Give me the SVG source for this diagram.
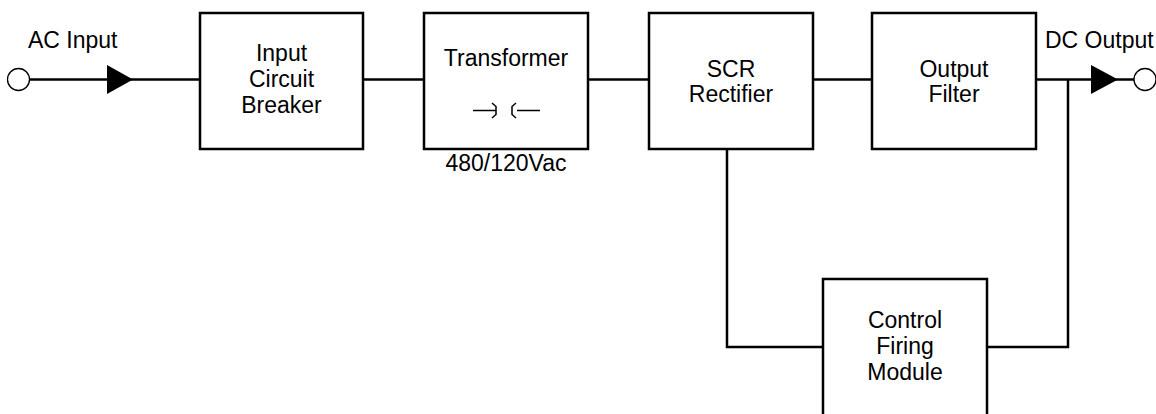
<svg xmlns="http://www.w3.org/2000/svg" width="1156" height="414" viewBox="0 0 1156 414">
<style>
.box{fill:#fff;stroke:#000;stroke-width:2.5}
.ln{fill:none;stroke:#000;stroke-width:2.5}
.thin{fill:none;stroke:#000;stroke-width:1.5}
.term{fill:#fff;stroke:#000;stroke-width:1.3}
text{font-family:"Liberation Sans",Arial,sans-serif;font-size:23px;fill:#000;text-anchor:middle}
.st{text-anchor:start}
</style>
<rect width="1156" height="414" fill="#fff"/>
<g id="connectors">
<path class="ln" d="M30,79.5H200"/>
<path class="ln" d="M363,79.5H424"/>
<path class="ln" d="M588,79.5H649"/>
<path class="ln" d="M813,79.5H872"/>
<path class="ln" d="M1036,79.5H1134"/>
<path class="ln" d="M727,149V347H823"/>
<path class="ln" d="M987,347H1068V79.5"/>
<polygon points="107,65 133,79.5 107,94" fill="#000"/>
<polygon points="1091,65 1118,79.5 1091,94" fill="#000"/>
</g>
<g id="ac-input">
<circle class="term" cx="18.5" cy="79.5" r="11"/>
<text class="st" x="28" y="48">AC Input</text>
</g>
<g id="dc-output">
<circle class="term" cx="1145" cy="79.5" r="11"/>
<text class="st" x="1045" y="48">DC Output</text>
</g>
<g id="input-breaker">
<rect class="box" x="200" y="13" width="163" height="136"/>
<text x="281.5" y="61">Input</text>
<text x="281.5" y="87">Circuit</text>
<text x="281.5" y="113">Breaker</text>
</g>
<g id="transformer">
<rect class="box" x="424" y="13" width="164" height="136"/>
<text x="506" y="66">Transformer</text>
<path class="thin" d="M473,110.5H496M492,103L496,106.5V114.5L492,118"/>
<path class="thin" d="M540,110.5H517M516,103L512,106.5V114.5L516,118"/>
<text x="506" y="171">480/120Vac</text>
</g>
<g id="scr-rectifier">
<rect class="box" x="649" y="13" width="164" height="136"/>
<text x="731" y="77">SCR</text>
<text x="731" y="102">Rectifier</text>
</g>
<g id="output-filter">
<rect class="box" x="872" y="13" width="164" height="136"/>
<text x="954" y="77">Output</text>
<text x="954" y="102">Filter</text>
</g>
<g id="control-firing">
<rect class="box" x="823" y="279" width="164" height="150"/>
<text x="905" y="328">Control</text>
<text x="905" y="354">Firing</text>
<text x="905" y="380">Module</text>
</g>
</svg>
